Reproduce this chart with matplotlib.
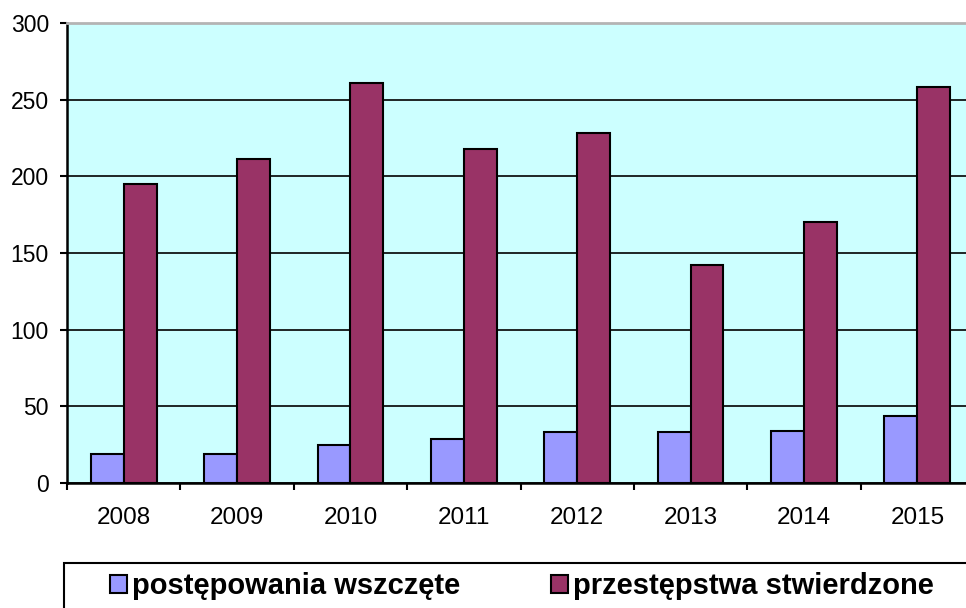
import matplotlib
matplotlib.use('Agg')
import matplotlib.pyplot as plt
import numpy as np
from matplotlib.patches import Rectangle

years = ['2008', '2009', '2010', '2011', '2012', '2013', '2014', '2015']
wszczete = [19, 19, 25, 29, 33, 33, 34, 44]
stwierdzone = [195, 211, 261, 218, 228, 142, 170, 258]
series_labels = ['postępowania wszczęte', 'przestępstwa stwierdzone']
yticks = [0, 50, 100, 150, 200, 250, 300]

plt.rcParams['font.family'] = ['Liberation Sans', 'DejaVu Sans']

fig = plt.figure(figsize=(9.66, 6.08), dpi=100)
ax = fig.add_axes([67/966, 125/608, 907/966, 460/608])
ax.set_facecolor('#CCFFFF')

x = np.arange(len(years))
w = 0.29
b1 = ax.bar(x - w/2, wszczete, w, color='#9999FF', edgecolor='black',
            linewidth=1.5, zorder=3, label=series_labels[0])
b2 = ax.bar(x + w/2, stwierdzone, w, color='#993366', edgecolor='black',
            linewidth=1.5, zorder=3, label=series_labels[1])

ax.set_xlim(-0.5, len(years) - 0.5)
ax.set_ylim(0, 300)
ax.set_yticks(yticks)
ax.set_yticklabels([str(v) for v in yticks])
ax.yaxis.grid(True, color='black', linewidth=1.2)
ax.set_axisbelow(True)

ax.set_xticks(x)
ax.set_xticklabels(years)
ax.set_xticks(np.arange(-0.5, len(years)), minor=True)
ax.tick_params(axis='x', which='major', length=0, pad=17, labelsize=17.5)
ax.tick_params(axis='x', which='minor', length=5, width=1.5, direction='out')
ax.tick_params(axis='y', which='major', length=5, width=1.5, direction='out',
               pad=8, labelsize=16.5)

ax.spines['right'].set_visible(False)
ax.spines['top'].set_color('#B4B4B4')
ax.spines['top'].set_linewidth(2)
ax.spines['left'].set_linewidth(1.8)
ax.spines['bottom'].set_linewidth(1.8)

# legend box
fig.patches.append(Rectangle((64/966, -0.05), 1.0, 45/608 + 0.05,
                             transform=fig.transFigure, fill=False,
                             edgecolor='black', linewidth=1.5))

fig.legend([b1, b2], series_labels, loc='center left',
           bbox_to_anchor=(110/966, (608 - 586.5)/608), ncol=2,
           frameon=False, prop={'weight': 'bold', 'size': 21},
           handlelength=0.59, handleheight=0.59, handletextpad=0.17,
           columnspacing=3.1, borderpad=0, borderaxespad=0)

fig.savefig('out.png', dpi=100)
